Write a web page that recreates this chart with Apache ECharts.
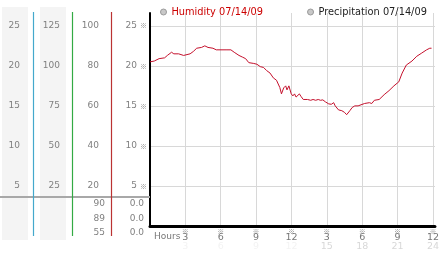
<!DOCTYPE html>
<html>
<head>
<meta charset="utf-8">
<script src="https://cdn.jsdelivr.net/npm/echarts@6/dist/echarts.min.js"></script>
<style>
html,body{margin:0;padding:0;background:#fff;}
#c{width:442px;height:253px;}
</style>
</head>
<body>
<div id="c"></div>
<script>
// ---- data ----
const hours = [0.0,0.36,0.77,1.24,1.47,1.83,2.02,2.43,2.57,2.85,2.99,3.40,3.68,3.96,4.37,4.65,4.92,5.34,5.62,6.45,6.58,6.86,7.14,7.55,7.83,8.11,8.38,8.80,9.07,9.35,9.63,9.90,10.18,10.46,10.73,11.01,11.15,11.34,11.51,11.62,11.78,11.98,12.12,12.26,12.39,12.53,12.67,12.80,13.00,13.36,13.63,13.83,14.05,14.27,14.46,14.66,14.88,15.16,15.38,15.58,15.71,15.99,16.27,16.49,16.68,16.95,17.15,17.37,17.65,18.20,18.61,18.81,19.03,19.44,19.86,20.27,20.69,21.10,21.39,21.74,22.22,22.63,23.05,23.46,23.73,23.88];
const humidity = [20.5,20.6,20.9,21.0,21.3,21.7,21.5,21.5,21.3,21.3,21.5,21.5,21.8,22.2,22.3,22.5,22.3,22.2,22.0,22.0,22.2,22.0,21.7,21.3,21.1,20.9,20.4,20.3,20.2,19.9,19.8,19.4,19.1,18.5,18.2,17.3,16.5,17.25,17.5,17.0,17.5,16.5,16.25,16.5,16.1,16.25,16.5,16.2,15.8,15.8,15.7,15.8,15.7,15.8,15.7,15.75,15.5,15.25,15.2,15.4,15.0,14.5,14.4,14.2,13.9,14.4,14.8,15.0,15.0,15.3,15.4,15.3,15.7,15.8,16.4,16.9,17.5,18.0,19.1,20.1,20.6,21.2,21.6,22.0,22.2,22.2];
const xTickLabels12 = ['3','6','9','12','3','6','9','12'];
const xTickLabels24 = ['3','6','9','12','15','18','21','24'];
const humidityStats = ['90','89','55'];
const precipStats = ['0.0','0.0','0.0'];
const seriesNames = ['Humidity 07/14/09','Precipitation 07/14/09'];

// ---- chart ----
const chart = echarts.init(document.getElementById('c'), null, {renderer:'canvas'});
const FONT = 'DejaVu Sans';
const MARKFONT = '"Noto Sans CJK SC"';
const LBL = '#808080';

function leftAxis(max, interval, offset) {
  return {
    type:'value', min:0, max:max, interval:interval, position:'left', offset:offset,
    axisLine:{show:false}, axisTick:{show:false}, splitLine:{show:false},
    axisLabel:{margin:0, color:LBL, fontSize:9, fontFamily:FONT,
      formatter:v => (v > 0 && v % interval === 0) ? String(v) : ''}
  };
}

const statTexts = [];
humidityStats.forEach((s,i) => statTexts.push({type:'text', x:105, y:204 + i*14.2,
  style:{text:s, fill:LBL, font:'9px "DejaVu Sans"', textAlign:'right', textVerticalAlign:'middle'}}));
precipStats.forEach((s,i) => statTexts.push({type:'text', x:144, y:204 + i*14.2,
  style:{text:s, fill:LBL, font:'9px "DejaVu Sans"', textAlign:'right', textVerticalAlign:'middle'}}));

chart.setOption({
  animation:false,
  textStyle:{fontFamily:FONT},
  legend:{
    left:155, top:2, itemWidth:6, itemHeight:6, itemGap:44, icon:'circle',
    itemStyle:{color:'#c8c8c8', borderColor:'#999', borderWidth:1},
    textStyle:{fontSize:9.8, fontFamily:FONT},
    data:[{name:seriesNames[0], textStyle:{color:'#cc0000'}},
          {name:seriesNames[1], textStyle:{color:'#222'}}]
  },
  grid:{left:150, right:2, top:13, bottom:27, containLabel:false},
  xAxis:{
    type:'value', min:0, max:24.17, interval:3,
    axisLine:{lineStyle:{color:'#000', width:3}},
    axisTick:{show:false},
    splitLine:{lineStyle:{color:'#d8d8d8', width:1}, showMinLine:false, showMaxLine:false},
    axisLabel:{
      margin:2,
      formatter:v => {
        if (v <= 0 || v % 3 !== 0) return '';
        const i = v/3 - 1;
        return '{m|※}\n{v|' + xTickLabels12[i] + '}\n{' + (v > 12 ? 'f' : 'g') + '|' + xTickLabels24[i] + '}';
      },
      rich:{
        m:{fontSize:7, lineHeight:6, color:'#888', fontFamily:MARKFONT},
        v:{fontSize:9.5, lineHeight:8, color:'#777', fontFamily:FONT},
        f:{fontSize:9.5, lineHeight:9, color:'#d8d8d8', fontFamily:FONT},
        g:{fontSize:9.5, lineHeight:9, color:'#f3f3f3', fontFamily:FONT}
      }
    }
  },
  yAxis:[
    {
      type:'value', min:0, max:26.6, interval:5, position:'left',
      axisLine:{show:true, lineStyle:{color:'#000', width:2}},
      axisTick:{show:false},
      splitLine:{lineStyle:{color:'#d8d8d8', width:1}, showMinLine:false, showMaxLine:false},
      axisLabel:{
        margin:3,
        formatter:v => (v > 0 && v % 5 === 0) ? '{v|' + v + '}{m|※}' : '',
        rich:{
          v:{fontSize:9, color:LBL, fontFamily:FONT, padding:[0,3,0,0]},
          m:{fontSize:7, width:7, align:'center', color:'#888', fontFamily:MARKFONT}
        }
      }
    },
    leftAxis(106.4, 20, 51),
    leftAxis(133, 25, 90),
    leftAxis(26.6, 5, 130)
  ],
  series:[
    {name:seriesNames[0], type:'line', yAxisIndex:0, showSymbol:false, symbol:'none',
     lineStyle:{color:'#c4102c', width:1}, itemStyle:{color:'#c4102c'},
     data:hours.map((h,i) => [h, humidity[i]])},
    {name:seriesNames[1], type:'line', yAxisIndex:0, showSymbol:false, data:[]}
  ],
  graphic:[
    {type:'rect', z:-10, shape:{x:2, y:7, width:26, height:233}, style:{fill:'#f4f4f4'}},
    {type:'rect', z:-10, shape:{x:40, y:7, width:26, height:233}, style:{fill:'#f4f4f4'}},
    {type:'line', z:5, shape:{x1:0, y1:197, x2:150, y2:197}, style:{stroke:'#a8a8a8', lineWidth:2}},
    {type:'line', z:6, shape:{x1:33.5, y1:12, x2:33.5, y2:236}, style:{stroke:'#44a8cc', lineWidth:1.2}},
    {type:'line', z:6, shape:{x1:72.5, y1:12, x2:72.5, y2:236}, style:{stroke:'#33aa44', lineWidth:1.2}},
    {type:'line', z:6, shape:{x1:111.5, y1:12, x2:111.5, y2:236}, style:{stroke:'#bb3333', lineWidth:1.2}},
    {type:'text', x:154, y:237, style:{text:'Hours', fill:'#777', font:'9px "DejaVu Sans"', textVerticalAlign:'middle'}}
  ].concat(statTexts)
});
</script>
</body>
</html>
